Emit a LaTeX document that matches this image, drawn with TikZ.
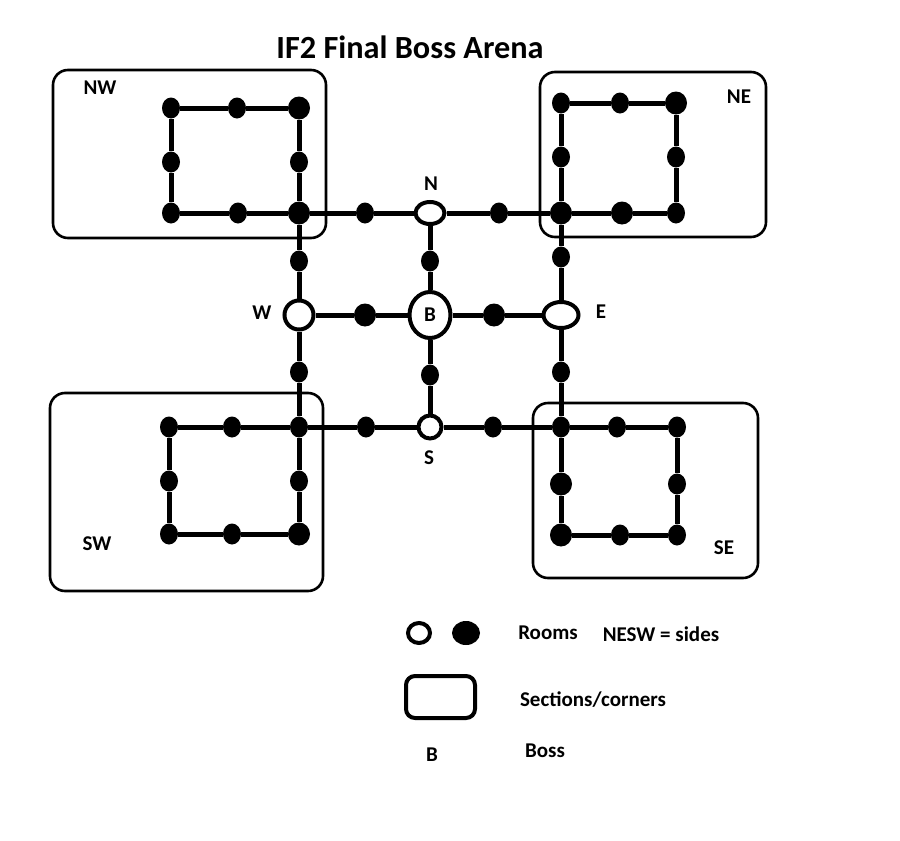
\documentclass[tikz,border=0pt]{standalone}
\usepackage{fontspec}
\setmainfont{Carlito}
\usetikzlibrary{shapes.geometric}
\pgfdeclarelayer{bg}
\pgfsetlayers{bg,main}
\begin{document}
\begin{tikzpicture}[x=1pt,y=-1pt,
  dot/.style={ellipse, fill=black, inner sep=0pt, minimum width=18pt, minimum height=21pt},
  bigdot/.style={ellipse, fill=black, inner sep=0pt, minimum width=22pt, minimum height=23pt},
  room/.style={ellipse, draw, line width=4pt, fill=white, inner sep=0pt},
  wire/.style={line width=5pt},
  section/.style={draw, line width=2.6pt, rounded corners=15pt},
  lbl/.style={font=\fontsize{21}{23}\selectfont\bfseries, inner sep=0pt},
  ttl/.style={font=\fontsize{32.3}{35}\selectfont\bfseries, inner sep=0pt}]
\useasboundingbox (0,0) rectangle (900,841);

% title
\node[ttl] (title) at (410,47) {IF2 Final Boss Arena};

% sections
\draw[section] (53,70) rectangle (326,238);
\draw[section] (540,72) rectangle (766,237);
\draw[section] (50,393) rectangle (323,591);
\draw[section] (533,403) rectangle (758,578);

% NW grid
\node[dot] (nwtl) at (171,108) {};
\node[dot] (nwtm) at (237,108) {};
\node[bigdot] (nwtr) at (299,108) {};
\node[dot] (nwml) at (171,162) {};
\node[dot] (nwmr) at (299,162) {};
\node[dot] (nwbl) at (171,213) {};
\node[dot] (nwbm) at (238,213) {};
\node[bigdot] (nwbr) at (299,213) {};
% NE grid
\node[dot] (netl) at (561,103) {};
\node[dot] (netm) at (620,103) {};
\node[bigdot] (netr) at (676,103) {};
\node[dot] (neml) at (561,157) {};
\node[dot] (nemr) at (676,157) {};
\node[bigdot] (nebl) at (561,213) {};
\node[bigdot] (nebm) at (622,213) {};
\node[dot] (nebr) at (676,213) {};
% SW grid
\node[dot] (swtl) at (169,427) {};
\node[dot] (swtm) at (232,427) {};
\node[dot] (swtr) at (299,427) {};
\node[dot] (swml) at (169,481) {};
\node[dot] (swmr) at (299,481) {};
\node[dot] (swbl) at (169,534) {};
\node[dot] (swbm) at (232,534) {};
\node[bigdot] (swbr) at (299,534) {};
% SE grid
\node[dot] (setl) at (561,427) {};
\node[dot] (setm) at (617,427) {};
\node[dot] (setr) at (677,427) {};
\node[bigdot] (seml) at (561,484) {};
\node[dot] (semr) at (677,484) {};
\node[bigdot] (sebl) at (561,535) {};
\node[dot] (sebm) at (620,535) {};
\node[dot] (sebr) at (677,535) {};

% side rooms
\node[room, minimum width=29pt, minimum height=22pt] (N) at (430,213) {};
\node[room, minimum width=29pt, minimum height=29pt] (W) at (299,315) {};
\node[room, minimum width=35pt, minimum height=26pt] (E) at (561,315) {};
\node[room, minimum width=23pt, minimum height=23pt] (S) at (430,427) {};
\node[room, minimum width=41pt, minimum height=46pt, lbl] (B) at (430,315) {B};

% connector rooms
\node[dot] (nw_n) at (365,213) {};
\node[dot] (n_ne) at (499,213) {};
\node[dot] (nw_w) at (299,261) {};
\node[dot] (w_sw) at (299,372) {};
\node[dot] (ne_e) at (561,257) {};
\node[dot] (e_se) at (561,372) {};
\node[dot] (n_b) at (430,261) {};
\node[dot] (b_s) at (430,375) {};
\node[bigdot] (w_b) at (365,315) {};
\node[bigdot] (b_e) at (494,315) {};
\node[dot] (sw_s) at (366,427) {};
\node[dot] (s_se) at (493,427) {};

\begin{pgfonlayer}{bg}
\fill[white] (0,0) rectangle (900,841);
\draw[wire] (nwtl) -- (nwtm) -- (nwtr) -- (nwmr) -- (nwbr) -- (nwbm) -- (nwbl) -- (nwml) -- (nwtl);
\draw[wire] (netl) -- (netm) -- (netr) -- (nemr) -- (nebr) -- (nebm) -- (nebl) -- (neml) -- (netl);
\draw[wire] (swtl) -- (swtm) -- (swtr) -- (swmr) -- (swbr) -- (swbm) -- (swbl) -- (swml) -- (swtl);
\draw[wire] (setl) -- (setm) -- (setr) -- (semr) -- (sebr) -- (sebm) -- (sebl) -- (seml) -- (setl);
\draw[wire] (nwbr) -- (nw_n) -- (N) -- (n_ne) -- (nebl);
\draw[wire] (swtr) -- (sw_s) -- (S) -- (s_se) -- (setl);
\draw[wire] (nwbr) -- (nw_w) -- (W) -- (w_sw) -- (swtr);
\draw[wire] (nebl) -- (ne_e) -- (E) -- (e_se) -- (setl);
\draw[wire] (N) -- (n_b) -- (B) -- (b_s) -- (S);
\draw[wire] (W) -- (w_b) -- (B) -- (b_e) -- (E);
\end{pgfonlayer}

% labels
\node[lbl] (lNW) at (100,88) {NW};
\node[lbl] (lNE) at (739,97) {NE};
\node[lbl] (lSW) at (97,544) {SW};
\node[lbl] (lSE) at (724,548) {SE};
\node[lbl] (lN) at (431,184) {N};
\node[lbl] (lW) at (262,313) {W};
\node[lbl] (lE) at (601,312) {E};
\node[lbl] (lS) at (429,458) {S};

% legend
\node[room, minimum width=22pt, minimum height=20pt] (legopen) at (419,633) {};
\node[ellipse, fill=black, inner sep=0pt, minimum width=28pt, minimum height=24pt] (legdot) at (466,633) {};
\node[lbl] (legrooms) at (548,633) {Rooms};
\node[lbl] (legsides) at (661,634) {NESW = sides};
\draw[line width=4pt, rounded corners=9pt] (406,676) rectangle (475,718);
\node[lbl] (legsec) at (593,700) {Sections/corners};
\node[lbl] (legB) at (432,755) {B};
\node[lbl] (legboss) at (545,751) {Boss};
\end{tikzpicture}
\end{document}
